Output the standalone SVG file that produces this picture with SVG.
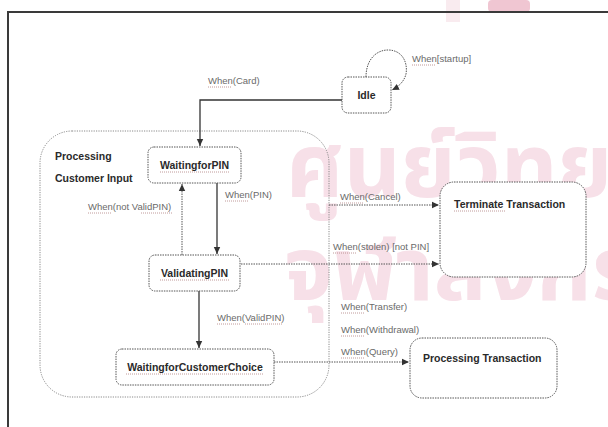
<svg xmlns="http://www.w3.org/2000/svg" width="608" height="427" viewBox="0 0 608 427">
<style>
.bg{fill:#ffffff}
.wm{font-family:"Noto Sans Thai","Noto Sans","DejaVu Sans",sans-serif;font-weight:bold;font-size:88px;fill:#f7e0e8}
.frame{fill:none;stroke:#3a3a3a;stroke-width:2}
.cont{fill:none;stroke:#8a8a8a;stroke-width:1;stroke-dasharray:1.2 1.2}
.node{fill:#ffffff;stroke:#555;stroke-width:1;stroke-dasharray:1.5 1}
.nt{font-family:"Liberation Sans",Arial,sans-serif;font-weight:bold;font-size:10.5px;fill:#2a2a2a}
.lbl{font-family:"Liberation Sans",Arial,sans-serif;font-size:9.5px;fill:#6a6a6a}
.squig{fill:none;stroke:#b08080;stroke-width:0.8;stroke-dasharray:1 1}
.solid{fill:none;stroke:#333;stroke-width:1.3}
.dot{fill:none;stroke:#555;stroke-width:1;stroke-dasharray:1.5 1}
</style>
<defs>
<marker id="ah" markerWidth="8" markerHeight="8" refX="7" refY="4" orient="auto" markerUnits="userSpaceOnUse">
<path d="M0,0.8 L7,4 L0,7.2 Z" fill="#333"/>
</marker>
</defs>
<rect class="bg" x="0" y="0" width="608" height="427"/>
<g id="watermark">
<rect x="488" y="0" width="42" height="12" rx="4" fill="#f0c6d2"/>
<rect x="446" y="0" width="14" height="22" fill="#f9ebef"/>
<text class="wm" x="286" y="197">ศูนย์วิทยทรัพยากร</text>
<text class="wm" x="284" y="300">จุฬาลงกรณ์มหาวิทยาลัย</text>
</g>
<rect class="frame" x="8" y="12" width="640" height="440"/>
<g id="container">
<rect class="cont" x="40" y="131" width="289" height="266" rx="32" ry="32"/>
<text class="nt" x="55" y="160">Processing</text>
<text class="nt" x="55" y="182">Customer Input</text>
</g>
<g id="connectors">
<path class="solid" d="M342,100 H200 V146" marker-end="url(#ah)"/>
<path class="dot" d="M366,77 C366,60 376,50 388,50 C402,50 408,62 406,74 C404,82 398,87 392,90" marker-end="url(#ah)"/>
<path class="solid" d="M217,183 V254" marker-end="url(#ah)"/>
<path class="dot" d="M182,255 V184" marker-end="url(#ah)"/>
<path class="solid" d="M199,291 V348" marker-end="url(#ah)"/>
<path class="dot" d="M329,205 H439" marker-end="url(#ah)"/>
<path class="dot" d="M241,264 H439" marker-end="url(#ah)"/>
<path class="dot" d="M274,362 H409" marker-end="url(#ah)"/>
<text class="lbl" x="208" y="84">When(Card)</text>
<path class="squig" d="M208,87 H232"/>
<text class="lbl" x="412" y="62">When[startup]</text>
<path class="squig" d="M412,65 H436"/>
<text class="lbl" x="225" y="198">When(PIN)</text>
<path class="squig" d="M225,201 H249"/>
<text class="lbl" x="88" y="210">When(not ValidPIN)</text>
<path class="squig" d="M88,213 H112 M141,213 H172"/>
<text class="lbl" x="340" y="200">When(Cancel)</text>
<path class="squig" d="M340,203 H364"/>
<text class="lbl" x="333" y="250">When(stolen) [not PIN]</text>
<path class="squig" d="M333,253 H357"/>
<text class="lbl" x="217" y="321">When(ValidPIN)</text>
<path class="squig" d="M217,324 H241 M245,324 H282"/>
<text class="lbl" x="341" y="310">When(Transfer)</text>
<path class="squig" d="M341,313 H365"/>
<text class="lbl" x="341" y="333">When(Withdrawal)</text>
<path class="squig" d="M341,336 H365"/>
<text class="lbl" x="341" y="355">When(Query)</text>
<path class="squig" d="M341,358 H365"/>
</g>
<g id="idle">
<rect class="node" x="342" y="77" width="49" height="36" rx="6"/>
<text class="nt" x="366.5" y="99" text-anchor="middle">Idle</text>
</g>
<g id="waitingforpin">
<rect class="node" x="148" y="147" width="93" height="36" rx="6"/>
<text class="nt" x="194.5" y="169" text-anchor="middle">WaitingforPIN</text>
<path class="squig" d="M160,172 H229"/>
</g>
<g id="validatingpin">
<rect class="node" x="149" y="255" width="91" height="36" rx="6"/>
<text class="nt" x="194.5" y="277" text-anchor="middle">ValidatingPIN</text>
<path class="squig" d="M160,280 H229"/>
</g>
<g id="waitingforcustomerchoice">
<rect class="node" x="116" y="349" width="158" height="36" rx="6"/>
<text class="nt" x="195" y="371" text-anchor="middle">WaitingforCustomerChoice</text>
<path class="squig" d="M126,374 H263"/>
</g>
<g id="terminate">
<rect class="node" x="440" y="182" width="146" height="95" rx="14"/>
<text class="nt" x="454" y="208">Terminate Transaction</text>
<path class="squig" d="M454,211 H505"/>
</g>
<g id="processing">
<rect class="node" x="410" y="338" width="147" height="60" rx="12"/>
<text class="nt" x="423" y="362">Processing Transaction</text>
</g>
</svg>
